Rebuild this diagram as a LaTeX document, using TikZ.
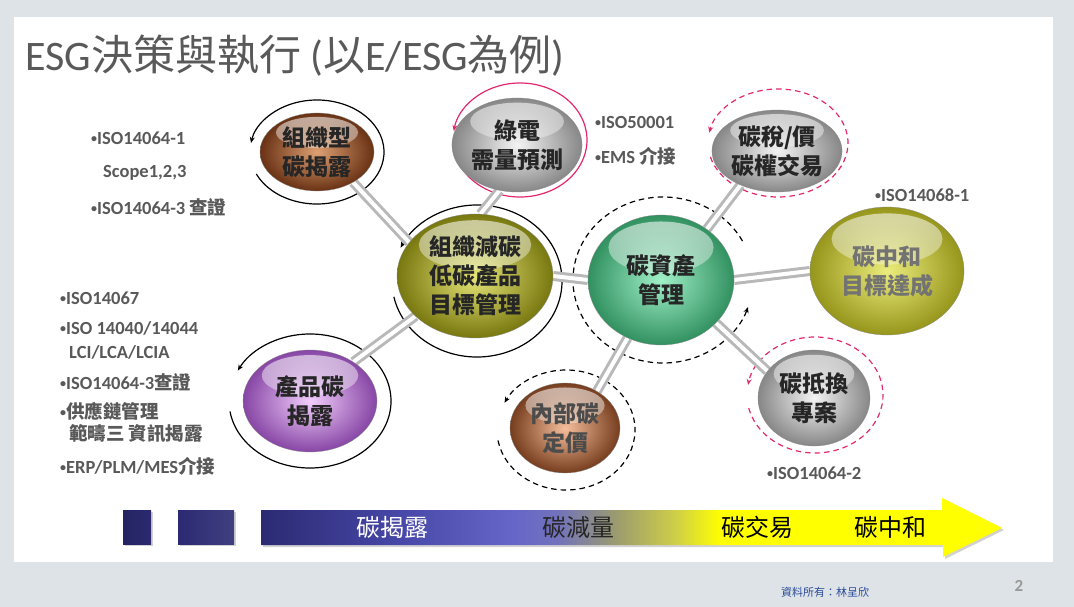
\documentclass[tikz,border=0pt]{standalone}
\usepackage{fontspec}
\setmainfont{Carlito}
\newfontfamily\cjk{Noto Sans CJK TC}
\usetikzlibrary{arrows.meta,calc,shadows,fadings,shapes.geometric}

\definecolor{slidegray}{HTML}{DDE3E6}
\definecolor{txtgray}{HTML}{595959}
\definecolor{loopred}{HTML}{E3286F}
\definecolor{footblue}{HTML}{2A4A9A}
\definecolor{barA}{HTML}{2B2A72}
\definecolor{barB}{HTML}{4646A6}
\definecolor{barC}{HTML}{6666C8}
\definecolor{barD}{HTML}{7272BC}
\definecolor{barE}{HTML}{9C9C6E}
\definecolor{barF}{HTML}{CFCF48}
\definecolor{barG}{HTML}{FFFF00}
\pgfdeclarehorizontalshading{barshade}{100bp}{color(0bp)=(barA); color(25bp)=(barA); color(34bp)=(barB); color(42bp)=(barC); color(45bp)=(barD); color(49bp)=(barE); color(53bp)=(barF); color(56bp)=(barG); color(100bp)=(barG)}

\pgfdeclarelayer{slide}
\pgfdeclarelayer{back}
\pgfsetlayers{slide,back,main}

\newcommand{\bul}{{\fontsize{12}{12}\selectfont\raisebox{.3ex}{•}}}

\tikzset{
  orb/.style={ellipse, inner sep=0pt, align=center, text=black!85,
    font=\cjk\bfseries\fontsize{23}{29}\selectfont, draw=black!45, line width=.3pt,
    path picture={\fill[white, fill opacity=.6, path fading=south]
      let \p1=(path picture bounding box.north east), \p2=(path picture bounding box.south west)
      in ({(\x1+\x2)/2},{\y1-0.25*(\y1-\y2)}) ellipse [x radius={0.36*(\x1-\x2)}, y radius={0.2*(\y1-\y2)}];}},
  orbbrown/.style={orb, inner color={rgb,255:red,222;green,160;blue,115}, outer color={rgb,255:red,105;green,50;blue,20}},
  orbolive/.style={orb, inner color={rgb,255:red,230;green,230;blue,120}, outer color={rgb,255:red,120;green,120;blue,16}},
  orbgrey/.style={orb, inner color={rgb,255:red,244;green,244;blue,244}, outer color={rgb,255:red,135;green,135;blue,135}},
  orbgreen/.style={orb, inner color={rgb,255:red,160;green,240;blue,200}, outer color={rgb,255:red,50;green,145;blue,96}},
  orbyellow/.style={orb, inner color={rgb,255:red,236;green,236;blue,125}, outer color={rgb,255:red,150;green,150;blue,28}},
  orbtan/.style={orb, inner color={rgb,255:red,246;green,190;blue,155}, outer color={rgb,255:red,118;green,62;blue,30}},
  orbpurple/.style={orb, inner color={rgb,255:red,242;green,206;blue,252}, outer color={rgb,255:red,135;green,70;blue,165}},
  rod/.style={draw=black!28, line width=3pt, double=white, double distance=4pt},
  loopline/.style={black, line width=1.2pt, -{Stealth[length=6pt,width=5pt]}},
  loopdash/.style={loopline, dash pattern=on 5.5pt off 4pt},
  listtxt/.style={font=\bfseries\fontsize{18.5}{22}\selectfont, text=txtgray, inner sep=0pt, anchor=west},
  barlbl/.style={font=\cjk\fontsize{24}{24}\selectfont, inner sep=0pt},
}

\begin{document}
\begin{tikzpicture}[x=1pt,y=1pt]
  \useasboundingbox (0,0) rectangle (1074,-607);
  \begin{pgfonlayer}{slide}
    \fill[slidegray] (0,0) rectangle (1074,-607);
    \fill[white] (14,-17) rectangle (1053,-562);
  \end{pgfonlayer}

  % title
  \node[anchor=base west, inner sep=0pt, text=txtgray, font=\fontsize{42}{42}\selectfont] (title) at (25,-71)
    {ESG{\cjk 決策與執行} ({\cjk 以}E/ESG{\cjk 為例})};

  % balls
  \node[orbbrown, minimum width=114pt, minimum height=78pt] (orgdis) at (317,-152) {組織型\\碳揭露};
  \node[orbolive, minimum width=156pt, minimum height=124pt] (mgmt) at (475,-276) {組織減碳\\低碳產品\\目標管理};
  \node[orbgrey, minimum width=104pt, minimum height=94pt] (grid) at (517,-145) {綠電\\需量預測};
  \node[orbgrey, minimum width=110pt, minimum height=82pt] (tax) at (777,-151) {碳稅/價\\碳權交易};
  \node[orbgreen, minimum width=146pt, minimum height=130pt] (asset) at (661,-280) {碳資產\\管理};
  \node[orbyellow, minimum width=154pt, minimum height=128pt, text=black!55] (neutral) at (887,-271) {碳中和\\目標達成};
  \node[orbtan, minimum width=110pt, minimum height=90pt, text=black!70] (price) at (565,-428) {內部碳\\定價};
  \node[orbgrey, minimum width=112pt, minimum height=96pt] (offset) at (814,-398) {碳抵換\\專案};
  \node[orbpurple, minimum width=134pt, minimum height=102pt] (prodis) at (310,-401) {產品碳\\揭露};

  % loops and rods
  \begin{pgfonlayer}{back}
    \draw[loopline] ([shift={(205:67 and 52)}]orgdis.center) arc[start angle=205, end angle=530, x radius=67, y radius=52];
    \draw[loopline] ([shift={(189:81 and 67)}]prodis.center) arc[start angle=189, end angle=513, x radius=81, y radius=67];
    \draw[loopline] ([shift={(192:85 and 76)}]$(mgmt.center)+(2,-5)$) arc[start angle=192, end angle=514, x radius=85, y radius=76];
    \draw[loopline, loopred] ([shift={(200:67 and 57)}]$(grid.center)+(3,5)$) arc[start angle=200, end angle=531, x radius=67, y radius=57];
    \draw[loopdash, loopred] ([shift={(195:70 and 54)}]$(tax.center)+(1,8)$) arc[start angle=195, end angle=529, x radius=70, y radius=54];
    \draw[loopdash] ([shift={(28:90 and 83)}]$(asset.center)+(2,0)$) arc[start angle=28, end angle=341, x radius=90, y radius=83];
    \draw[loopdash] ([shift={(190:69 and 60)}]$(price.center)+(1,-2)$) arc[start angle=190, end angle=513, x radius=69, y radius=60];
    \draw[loopdash, loopred] ([shift={(193:68 and 58)}]$(offset.center)+(1,3)$) arc[start angle=193, end angle=530, x radius=68, y radius=58];

    \draw[rod] (orgdis.320) -- (mgmt.153);
    \draw[rod] (prodis.42) -- (mgmt.214);
    \draw[rod] (grid.249) -- (mgmt.85);
    \draw[rod] (mgmt.east) -- (asset.west);
    \draw[rod] (tax.223) -- (asset.48);
    \draw[rod] (asset.east) -- (neutral.west);
    \draw[rod] (asset.240) -- (price.49);
    \draw[rod] (asset.322) -- (offset.150);
  \end{pgfonlayer}

  % notes
  \node[listtxt] (isoa) at (91,-138) {\bul ISO14064-1};
  \node[listtxt] (scope) at (103,-173) {Scope1,2,3};
  \node[listtxt] (isob) at (91,-207) {\bul ISO14064-3 {\cjk 查證}};
  \node[listtxt] (isoc) at (60,-298) {\bul ISO14067};
  \node[listtxt] (isod) at (60,-328) {\bul ISO 14040/14044};
  \node[listtxt] (lci) at (69,-352) {LCI/LCA/LCIA};
  \node[listtxt] (isoe) at (60,-382) {\bul ISO14064-3{\cjk 查證}};
  \node[listtxt] (supply) at (60,-411) {\bul{\cjk 供應鏈管理}};
  \node[listtxt] (scope3) at (69,-434) {\cjk 範疇三 資訊揭露};
  \node[listtxt] (erp) at (60,-466) {\bul ERP/PLM/MES{\cjk 介接}};
  \node[listtxt] (isoen) at (595,-122) {\bul ISO50001};
  \node[listtxt] (ems) at (595,-156) {\bul EMS {\cjk 介接}};
  \node[listtxt] (isoneu) at (875,-195) {\bul ISO14068-1};
  \node[listtxt] (isooff) at (767,-473) {\bul ISO14064-2};

  % bottom bar
  \fill[left color=barA!85!black, right color=barA, drop shadow={shadow xshift=2pt, shadow yshift=-2pt, opacity=.35}] (123,-510) rectangle (151,-544);
  \fill[left color=barA, right color=barA!90!white, drop shadow={shadow xshift=2pt, shadow yshift=-2pt, opacity=.35}] (178,-510) rectangle (234,-544);
  \shade[shading=barshade, drop shadow={shadow xshift=2pt, shadow yshift=-2pt, opacity=.35}]
    (261,-510) -- (942,-510) -- (942,-498) -- (1002,-528) -- (943,-557) -- (943,-545) -- (261,-545) -- cycle;
  \node[barlbl, text=white] (lbla) at (392,-527) {碳揭露};
  \node[barlbl, text=black!85] (lblb) at (578,-527) {碳減量};
  \node[barlbl, text=black] (lblc) at (757,-527) {碳交易};
  \node[barlbl, text=black] (lbld) at (890,-527) {碳中和};

  % footer
  \node[font=\cjk\fontsize{11}{11}\selectfont, text=footblue] (src) at (825,-592) {資料所有：林呈欣};
  \node[font=\bfseries\fontsize{17}{17}\selectfont, text=black!40] (pgno) at (1019,-586) {2};
\end{tikzpicture}
\end{document}
